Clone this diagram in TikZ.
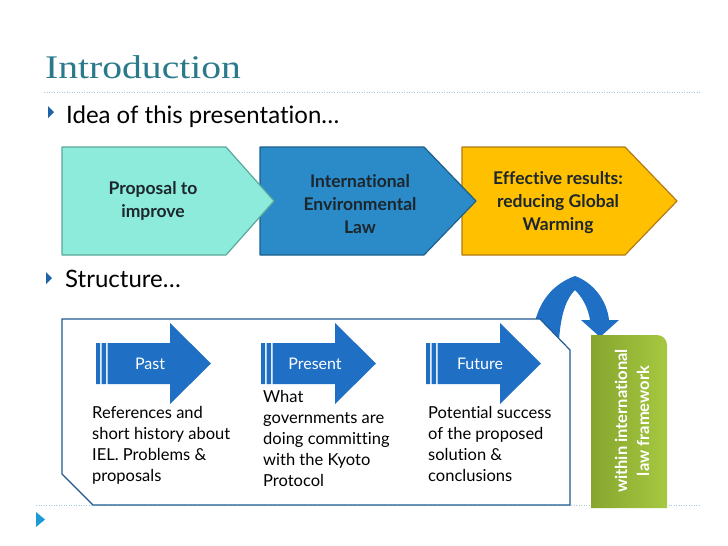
\documentclass[tikz,border=0pt]{standalone}
\usepackage{fontspec}
\setmainfont{Lato}[Ligatures=NoCommon]
\newfontfamily\titlefont[FakeStretch=1.2]{Liberation Serif}
\usetikzlibrary{positioning,shapes}
\definecolor{titleteal}{HTML}{2B7A8B}
\definecolor{dotblue}{HTML}{9DCFE0}
\definecolor{bullblue}{HTML}{1E63A8}
\definecolor{markblue}{HTML}{1B9AD6}
\definecolor{aqua}{HTML}{8DEBDB}
\definecolor{aquaedge}{HTML}{5AA89A}
\definecolor{midblue}{HTML}{2A8BC8}
\definecolor{midedge}{HTML}{1D5F8C}
\definecolor{gold}{HTML}{FFC000}
\definecolor{goldedge}{HTML}{B27A16}
\definecolor{arrowblue}{HTML}{1F6FC5}
\definecolor{outlblue}{HTML}{1F5A90}
\definecolor{labeldark}{HTML}{1C262C}
\definecolor{olivedark}{HTML}{86A52E}
\definecolor{olivelight}{HTML}{A6C841}

\begin{document}
\begin{tikzpicture}[x=1pt,y=-1pt,
  chev/.style={line width=1.2pt,line join=round},
  chevlbl/.style={font=\fontsize{17.5}{23}\selectfont\bfseries,text=labeldark,align=center},
  steplbl/.style={font=\fontsize{16}{18}\selectfont,text=white},
  body/.style={font=\fontsize{16.5}{21}\selectfont,align=left,anchor=north west,inner sep=0},
  bullet/.style={font=\fontsize{24}{28}\selectfont,anchor=base west,inner sep=0},
  dotline/.style={dotblue,line width=1pt,dash pattern=on 1pt off 1.5pt}]
\useasboundingbox (0,0) rectangle (728,546);
\fill[white] (0,0) rectangle (728,546);

\node[anchor=base west,inner sep=0,text=titleteal,font=\titlefont\fontsize{33}{38}\selectfont] (title) at (45,78) {Introduction};
\draw[dotline] (44,92) -- (700,92);
\draw[dotline] (36,505) -- (700,505);

\fill[bullblue] (48,106) -- (54,112) -- (48,118) -- cycle;
\node[bullet] (idea) at (66,123) {Idea of this presentation…};
\fill[bullblue] (46,272) -- (52,278) -- (46,284) -- cycle;
\node[bullet] (struct) at (65,287) {Structure…};

\draw[chev,fill=gold,draw=goldedge] (462,147) -- (625,147) -- (677,201) -- (625,255) -- (462,255) -- cycle;
\draw[chev,fill=midblue,draw=midedge] (260,147) -- (424,147) -- (476,201) -- (424,255) -- (260,255) -- cycle;
\draw[chev,fill=aqua,draw=aquaedge] (62,147) -- (226,147) -- (274,201) -- (226,255) -- (62,255) -- cycle;
\node[chevlbl] (proposal) at (153,201) {Proposal to\\improve};
\node[chevlbl] (iel) at (360,204) {International\\Environmental\\Law};
\node[chevlbl] (results) at (558,203) {Effective results:\\reducing Global\\Warming};

\fill[arrowblue] (533,332) .. controls (537,302) and (553,284) .. (575,276)
  .. controls (594,283) and (607,301) .. (609,320) -- (619,320) -- (600,337) -- (581,320) -- (590,320)
  .. controls (588,307) and (582,297) .. (575,290)
  .. controls (567,298) and (561,312) .. (559,340) -- cycle;

\draw[outlblue,line width=1.2pt,fill=white] (62,319) -- (540,319) -- (570,350) -- (570,505) -- (93,505) -- (62,474) -- cycle;

\foreach \dx/\nm/\txt in {0/past/Past,165/present/Present,330/future/Future}{
  \fill[arrowblue] (96+\dx,343) rectangle (100+\dx,384) (101.5+\dx,343) rectangle (106+\dx,384);
  \fill[arrowblue] (107.5+\dx,343) -- (170+\dx,343) -- (170+\dx,323) -- (211+\dx,363.5)
    -- (170+\dx,404) -- (170+\dx,384) -- (107.5+\dx,384) -- cycle;
  \node[steplbl] (\nm) at (150+\dx,364) {\txt};
}

\node[body] (pastnote) at (92,406) {References and\\short history about\\IEL. Problems \&\\proposals};
\node[body] (presentnote) at (263,390) {What\\governments are\\doing committing\\with the Kyoto\\Protocol};
\node[body] (futurenote) at (428,406) {Potential success\\of the proposed\\solution \&\\conclusions};

\shade[left color=olivedark,right color=olivelight] (591,508) -- (591,335) -- (657,335)
  arc[start angle=-90,end angle=0,radius=10] -- (667,508) -- cycle;
\node[rotate=90,text=white,align=center,font=\fontsize{16.5}{22}\selectfont\bfseries] (frame) at (632,421) {within international\\law framework};

\fill[markblue] (36,512) -- (45,519.5) -- (36,527) -- cycle;
\end{tikzpicture}
\end{document}
